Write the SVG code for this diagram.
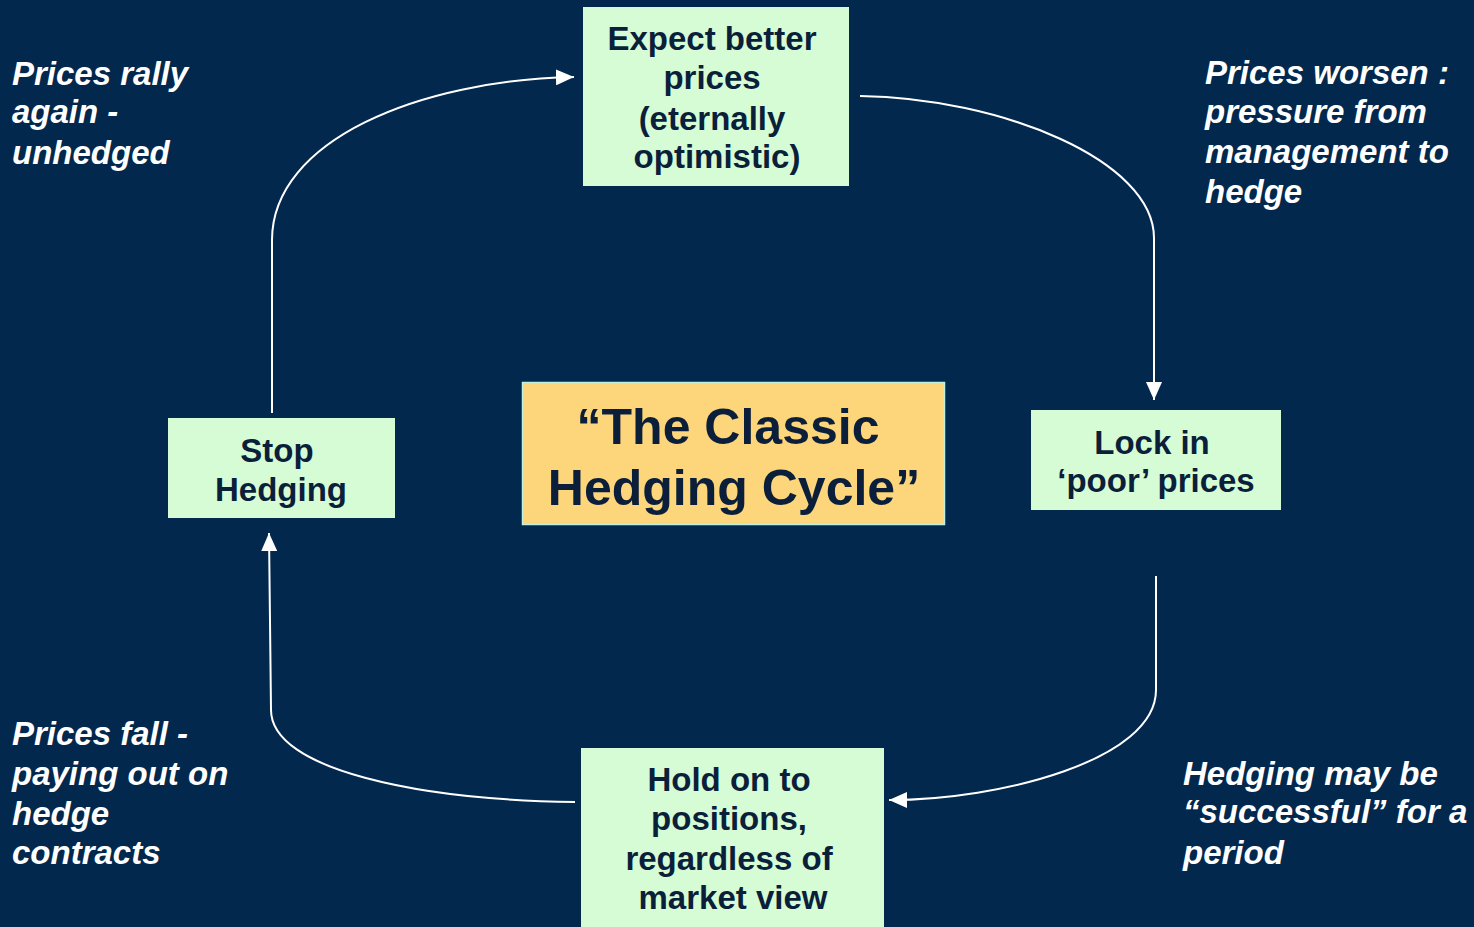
<svg xmlns="http://www.w3.org/2000/svg" width="1474" height="927" viewBox="0 0 1474 927">
<defs>
<marker id="ah" markerUnits="userSpaceOnUse" markerWidth="20" markerHeight="16" refX="18" refY="8" orient="auto">
<path d="M0,0 L18,8 L0,16 Z" fill="#ffffff"/>
</marker>
<style>
.box{fill:#D5FCD5;}
.bt{font-family:"Liberation Sans",Arial,sans-serif;font-weight:bold;font-size:33px;fill:#0B1F3A;text-anchor:middle;}
.ct{font-family:"Liberation Sans",Arial,sans-serif;font-weight:bold;font-size:50px;fill:#0B1F3A;text-anchor:middle;}
.lab{font-family:"Liberation Sans",Arial,sans-serif;font-weight:bold;font-style:italic;font-size:33px;fill:#ffffff;}
.con{fill:none;stroke:#ffffff;stroke-width:2;marker-end:url(#ah);}
</style>
</defs>
<rect width="1474" height="927" fill="#02284E"/>
<g id="connectors">
<path class="con" d="M272,413 L272,240 C272,140 420,80 574,77"/>
<path class="con" d="M860,96 C1000,98 1154,160 1154,238 L1154,400"/>
<path class="con" d="M1156,576 L1156,690 C1156,760 1000,800 889,800"/>
<path class="con" d="M575,802 C420,800 271,770 271,710 L269,533"/>
</g>
<g id="node-expect">
<rect class="box" x="583" y="7" width="266" height="179"/>
<text class="bt" x="712" y="50">Expect better</text>
<text class="bt" x="712" y="89">prices</text>
<text class="bt" x="712" y="130">(eternally</text>
<text class="bt" x="717" y="168">optimistic)</text>
</g>
<g id="node-lock">
<rect class="box" x="1031" y="410" width="250" height="100"/>
<text class="bt" x="1152" y="454">Lock in</text>
<text class="bt" x="1156" y="492">‘poor’ prices</text>
</g>
<g id="node-hold">
<rect class="box" x="581" y="748" width="303" height="179"/>
<text class="bt" x="729" y="791">Hold on to</text>
<text class="bt" x="729" y="830">positions,</text>
<text class="bt" x="729" y="870">regardless of</text>
<text class="bt" x="733" y="909">market view</text>
</g>
<g id="node-stop">
<rect class="box" x="168" y="418" width="227" height="100"/>
<text class="bt" x="277" y="462">Stop</text>
<text class="bt" x="281" y="501">Hedging</text>
</g>
<g id="node-center">
<rect x="522.5" y="382.5" width="422" height="142" fill="#FDD57A" stroke="#BFF0E0" stroke-width="1.5"/>
<text class="ct" x="728" y="444">“The Classic</text>
<text class="ct" x="734" y="505">Hedging Cycle”</text>
</g>
<g id="labels">
<text class="lab" x="12" y="85">Prices rally</text>
<text class="lab" x="12" y="123">again -</text>
<text class="lab" x="12" y="164">unhedged</text>
<text class="lab" x="1205" y="84">Prices worsen :</text>
<text class="lab" x="1205" y="123">pressure from</text>
<text class="lab" x="1205" y="163">management to</text>
<text class="lab" x="1205" y="203">hedge</text>
<text class="lab" x="12" y="745">Prices fall -</text>
<text class="lab" x="12" y="785">paying out on</text>
<text class="lab" x="12" y="825">hedge</text>
<text class="lab" x="12" y="864">contracts</text>
<text class="lab" x="1183" y="785">Hedging may be</text>
<text class="lab" x="1183" y="823">“successful” for a</text>
<text class="lab" x="1183" y="864">period</text>
</g>
</svg>
